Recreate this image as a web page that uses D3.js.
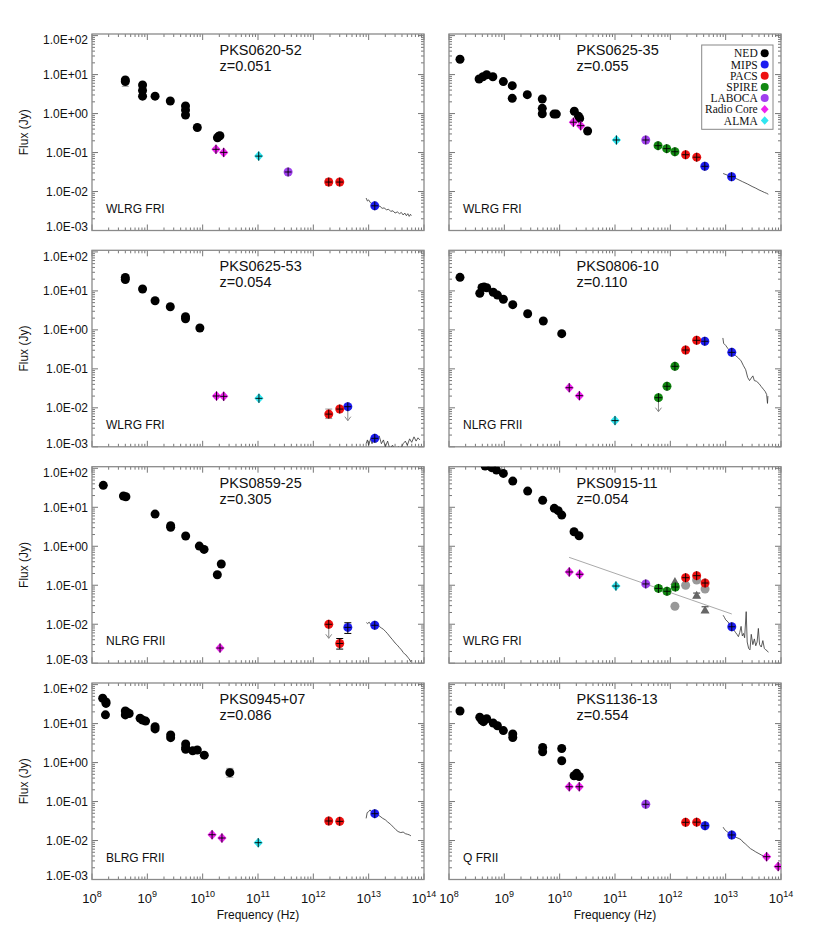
<!DOCTYPE html>
<html><head><meta charset="utf-8">
<script src="https://cdn.jsdelivr.net/npm/d3@7"></script>
<style>body{margin:0;background:#fff;} svg{display:block;}</style>
</head><body>
<svg id="c" width="817" height="940"></svg>
<script>
// ---------- axis data ----------
const xTickValues = [1e8,1e9,1e10,1e11,1e12,1e13,1e14];
const xTickExponents = ["8","9","10","11","12","13","14"];
const yTickValues = [1e-3,1e-2,1e-1,1e0,1e1,1e2];
const yTickLabels = ["1.0E-03","1.0E-02","1.0E-01","1.0E+00","1.0E+01","1.0E+02"];
const sourceNames = ["PKS0620-52","PKS0625-35","PKS0625-53","PKS0806-10","PKS0859-25","PKS0915-11","PKS0945+07","PKS1136-13"];
const redshifts = ["z=0.051","z=0.055","z=0.054","z=0.110","z=0.305","z=0.054","z=0.086","z=0.554"];
const classes = ["WLRG FRI","WLRG FRI","WLRG FRI","NLRG FRII","NLRG FRII","WLRG FRI","BLRG FRII","Q FRII"];
const legendLabels = ["NED","MIPS","PACS","SPIRE","LABOCA","Radio Core","ALMA"];
const legendColors = ["#000000","#1c1cf0","#ee1111","#118811","#a040ee","#ee22ee","#30e6f0"];

// ---------- panel data: [frequency Hz, flux Jy, upperLimit?] ----------
// PKS0620-52
const ned1 = [[4.0e8,7.3],[4.0e8,6.6],[8.2e8,5.4],[8.2e8,3.9],[8.2e8,2.8],[1.38e9,2.8],[2.6e9,2.1],[4.9e9,1.56],[4.9e9,1.23],[4.9e9,0.92],[8.0e9,0.44],[1.85e10,0.24],[1.95e10,0.26],[2.05e10,0.27]];
const core1 = [[1.74e10,0.121],[2.4e10,0.101]];
const alma1 = [[1.03e11,0.081]];
const laboca1 = [[3.5e11,0.0317]];
const pacs1 = [[1.9e12,0.0175],[3.0e12,0.0175]];
const mips1 = [[1.29e13,0.0043]];
const err1 = [[4.0e8,5.0,7.8,"#999"],[1.9e12,0.0145,0.021,"#999"]];
const irs1 = [[9.0e12,0.0068],[9.5e12,0.0057],[1.0e13,0.0061],[1.07e13,0.0052],[1.15e13,0.0049],[1.25e13,0.0045],[1.35e13,0.0047],[1.45e13,0.0041],[1.6e13,0.0042],[1.75e13,0.0037],[1.9e13,0.0038],[2.1e13,0.0034],[2.3e13,0.0035],[2.5e13,0.0031],[2.75e13,0.0032],[3.0e13,0.0028],[3.3e13,0.0030],[3.6e13,0.0027],[3.9e13,0.0029],[4.2e13,0.0025],[4.5e13,0.0028],[4.8e13,0.0024],[5.1e13,0.0027],[5.4e13,0.0023],[5.7e13,0.0026],[5.9e13,0.0024]];
// PKS0625-35
const ned2 = [[1.58e8,24.7],[3.5e8,7.7],[4.1e8,8.8],[4.8e8,9.9],[6.2e8,8.8],[9.6e8,6.6],[1.39e9,5.2],[1.39e9,2.46],[2.6e9,3.05],[4.85e9,2.36],[4.85e9,1.36],[4.85e9,0.99],[7.9e9,0.97],[8.7e9,0.97],[1.84e10,1.15],[2.2e10,0.85],[2.3e10,0.75],[3.2e10,0.357]];
const core2 = [[1.77e10,0.60],[2.4e10,0.49]];
const alma2 = [[1.06e11,0.21]];
const laboca2 = [[3.6e11,0.21]];
const spire2 = [[6.0e11,0.15],[8.6e11,0.126],[1.21e12,0.105]];
const pacs2 = [[1.89e12,0.088],[3.0e12,0.076]];
const mips2 = [[4.2e12,0.0444],[1.28e13,0.024]];
const irs2 = [[9.0e12,0.029],[1.1e13,0.026],[1.3e13,0.024],[1.6e13,0.021],[2.0e13,0.018],[2.5e13,0.0155],[3.0e13,0.0135],[3.5e13,0.0122],[4.0e13,0.011],[4.5e13,0.0102],[5.0e13,0.0095],[5.5e13,0.009],[5.9e13,0.0085]];
// PKS0625-53
const ned3 = [[4.0e8,22],[4.0e8,19.5],[8.2e8,11.2],[1.38e9,5.6],[2.6e9,3.93],[4.9e9,2.18],[4.9e9,1.93],[8.9e9,1.12]];
const core3 = [[1.78e10,0.0201],[2.4e10,0.0197]];
const alma3 = [[1.04e11,0.0175]];
const pacs3 = [[1.9e12,0.0069],[3.0e12,0.0093]];
const mips3 = [[4.2e12,0.0107,1],[1.29e13,0.00165]];
const err3 = [[4.0e8,17,24,"#999"],[1.9e12,0.0053,0.0093,"#999"]];
const irs3 = [[9.0e12,0.0012],[9.5e12,0.0015],[1.0e13,0.0011],[1.08e13,0.0016],[1.15e13,0.0012],[1.25e13,0.0017],[1.35e13,0.0013],[1.45e13,0.0016],[1.55e13,0.0019],[1.7e13,0.0012],[1.85e13,0.0015],[2.0e13,0.0010],[2.2e13,0.0014],[2.4e13,0.0009],[2.7e13,0.0011],[3.0e13,0.0008],[3.4e13,0.0010],[3.8e13,0.0009],[4.2e13,0.0012],[4.6e13,0.0014],[5.0e13,0.0011],[5.5e13,0.0016],[6.0e13,0.0013],[6.6e13,0.0018],[7.2e13,0.0014],[7.8e13,0.0017],[8.4e13,0.0015]];
// PKS0806-10
const ned4 = [[1.58e8,22.3],[3.6e8,8.7],[3.95e8,12.3],[4.3e8,12.5],[4.8e8,12],[6.3e8,9.2],[7.5e8,7.8],[9.6e8,6.1],[1.42e9,4.43],[2.64e9,2.6],[5.06e9,1.69],[1.09e10,0.80]];
const core4 = [[1.49e10,0.0328],[2.27e10,0.0205]];
const alma4 = [[1.0e11,0.0047]];
const spire4 = [[6.1e11,0.0182,1],[8.7e11,0.0357],[1.21e12,0.116]];
const pacs4 = [[1.89e12,0.304],[2.99e12,0.54]];
const mips4 = [[4.2e12,0.51],[1.29e13,0.265]];
const irs4 = [[8.9e12,0.62],[9.2e12,0.45],[1.0e13,0.40],[1.1e13,0.33],[1.3e13,0.26],[1.5e13,0.22],[1.7e13,0.19],[1.9e13,0.16],[2.1e13,0.12],[2.3e13,0.095],[2.5e13,0.060],[2.7e13,0.050],[2.9e13,0.058],[3.1e13,0.066],[3.3e13,0.050],[3.6e13,0.048],[4.0e13,0.042],[4.4e13,0.035],[4.8e13,0.030],[5.2e13,0.026],[5.5e13,0.022],[5.7e13,0.013],[5.8e13,0.020]];
// PKS0859-25
const ned5 = [[1.6e8,36.6],[3.7e8,19.5],[4.1e8,18.6],[1.38e9,6.7],[2.64e9,3.37],[2.64e9,3.06],[4.93e9,1.83],[8.7e9,1.01],[1.06e10,0.83],[1.84e10,0.186],[2.17e10,0.35]];
const core5 = [[2.06e10,0.00245]];
const pacs5 = [[1.9e12,0.00995,1],[3.0e12,0.0032]];
const mips5 = [[4.2e12,0.0083],[1.29e13,0.0094]];
const err5 = [[3.0e12,0.0023,0.0043,"#000"],[4.2e12,0.0058,0.0109,"#000"]];
const irs5 = [[9.1e12,0.011],[9.6e12,0.0104],[1.02e13,0.0113],[1.1e13,0.0097],[1.2e13,0.0103],[1.3e13,0.0094],[1.42e13,0.0098],[1.55e13,0.0088],[1.7e13,0.0080],[1.85e13,0.0074],[2.0e13,0.0066],[2.2e13,0.0057],[2.45e13,0.0047],[2.7e13,0.0040],[3.0e13,0.0033],[3.3e13,0.0029],[3.6e13,0.0025],[3.9e13,0.0022],[4.2e13,0.0019],[4.5e13,0.0017],[4.8e13,0.0016],[5.1e13,0.0014],[5.4e13,0.0013],[5.7e13,0.0011],[5.9e13,0.0012]];
// PKS0915-11
const ned6 = [[2.5e8,300],[3.6e8,180],[4.5e8,115],[5.9e8,104],[7.2e8,90],[9.6e8,74],[1.42e9,47],[2.64e9,26],[4.93e9,15.1],[8.0e9,9.4],[9.4e9,8.2],[1.09e10,6.3],[1.82e10,2.36],[2.24e10,1.86]];
const core6 = [[1.49e10,0.219],[2.3e10,0.191]];
const alma6 = [[1.04e11,0.0955]];
const laboca6 = [[3.6e11,0.108]];
const spire6 = [[6.1e11,0.083],[8.7e11,0.070],[1.23e12,0.090]];
const pacs6 = [[1.89e12,0.156],[2.99e12,0.176],[4.24e12,0.114]];
const mips6 = [[1.29e13,0.0086]];
const grayCircles6 = [[1.89e12,0.0998],[2.99e12,0.136],[4.24e12,0.080],[1.21e12,0.029]];
const grayTriangles6 = [[2.99e12,0.055],[4.24e12,0.023],[1.21e12,0.125]];
const fitLine6 = [[1.48e10,0.52],[1.29e13,0.0183]];
const err6 = [[6.1e11,0.072,0.095,"#000"],[8.7e11,0.060,0.081,"#000"],[1.23e12,0.078,0.11,"#000"],[2.99e12,0.048,0.063,"#333"],[4.24e12,0.020,0.028,"#333"]];
const irs6 = [[9.0e12,0.017],[9.5e12,0.015],[1.0e13,0.013],[1.1e13,0.0115],[1.2e13,0.0095],[1.3e13,0.0086],[1.4e13,0.0072],[1.5e13,0.0062],[1.6e13,0.0055],[1.7e13,0.0048],[1.8e13,0.0062],[1.9e13,0.0088],[2.0e13,0.0050],[2.1e13,0.0058],[2.2e13,0.0045],[2.35e13,0.021],[2.45e13,0.0035],[2.6e13,0.0024],[2.75e13,0.0022],[2.9e13,0.0055],[3.1e13,0.0030],[3.3e13,0.0042],[3.5e13,0.0028],[3.7e13,0.0035],[3.9e13,0.0078],[4.1e13,0.0030],[4.4e13,0.0026],[4.7e13,0.0038],[5.0e13,0.0024],[5.3e13,0.0022],[5.6e13,0.0021],[5.9e13,0.0019]];
// PKS0945+07
const ned7 = [[1.56e8,44.6],[1.79e8,36],[1.79e8,33],[1.75e8,16.8],[4.0e8,21],[4.0e8,16.7],[4.3e8,19.5],[4.7e8,18.1],[7.4e8,13.7],[8.2e8,12.4],[9.3e8,11.6],[1.38e9,8.3],[1.38e9,7.3],[2.64e9,5.1],[2.64e9,4.35],[4.93e9,3.0],[4.93e9,2.45],[4.93e9,2.19],[6.6e9,2.0],[8.0e9,2.1],[1.07e10,1.55],[3.1e10,0.55]];
const core7 = [[1.48e10,0.0141],[2.23e10,0.0116]];
const alma7 = [[1.01e11,0.0088]];
const pacs7 = [[1.9e12,0.0317],[3.0e12,0.031]];
const mips7 = [[1.29e13,0.0488]];
const err7 = [[3.1e10,0.42,0.71,"#999"]];
const irs7 = [[9.0e12,0.037],[9.4e12,0.052],[1.0e13,0.055],[1.06e13,0.061],[1.15e13,0.052],[1.28e13,0.049],[1.45e13,0.046],[1.6e13,0.042],[1.8e13,0.037],[2.0e13,0.034],[2.2e13,0.030],[2.5e13,0.026],[2.8e13,0.022],[3.1e13,0.019],[3.4e13,0.017],[3.8e13,0.016],[4.2e13,0.0165],[4.6e13,0.0150],[5.0e13,0.0145],[5.4e13,0.0140],[5.8e13,0.0132]];
// PKS1136-13
const ned8 = [[1.58e8,21],[3.6e8,14.5],[3.9e8,12.4],[4.2e8,11.2],[4.8e8,13.3],[6.3e8,10.3],[7.5e8,8.8],[9.6e8,6.6],[1.42e9,5.4],[1.42e9,4.4],[4.93e9,2.45],[4.93e9,1.89],[1.09e10,2.3],[1.09e10,1.11],[1.82e10,0.46],[2.03e10,0.53],[2.26e10,0.44]];
const core8 = [[1.49e10,0.24],[2.26e10,0.24],[5.5e13,0.00385],[8.9e13,0.00214]];
const laboca8 = [[3.6e11,0.085]];
const pacs8 = [[1.89e12,0.0293],[2.99e12,0.0296]];
const mips8 = [[4.24e12,0.024],[1.29e13,0.0139]];
const irs8 = [[9.0e12,0.022],[9.6e12,0.019],[1.05e13,0.017],[1.15e13,0.0155],[1.28e13,0.0140],[1.45e13,0.0125],[1.6e13,0.0118],[1.75e13,0.0112],[1.9e13,0.0105],[2.05e13,0.0092],[2.25e13,0.0083],[2.5e13,0.0072],[2.8e13,0.0062],[3.1e13,0.0057],[3.5e13,0.0051],[4.0e13,0.0046],[4.5e13,0.0042],[5.0e13,0.0040],[5.5e13,0.0038]];

// assemble panels from named arrays
const panels = [
  {ned:ned1, core:core1, alma:alma1, laboca:laboca1, pacs:pacs1, mips:mips1, err:err1, irs:irs1},
  {ned:ned2, core:core2, alma:alma2, laboca:laboca2, spire:spire2, pacs:pacs2, mips:mips2, irs:irs2, legend:true},
  {ned:ned3, core:core3, alma:alma3, pacs:pacs3, mips:mips3, err:err3, irs:irs3},
  {ned:ned4, core:core4, alma:alma4, spire:spire4, pacs:pacs4, mips:mips4, irs:irs4},
  {ned:ned5, core:core5, pacs:pacs5, mips:mips5, err:err5, irs:irs5},
  {ned:ned6, core:core6, alma:alma6, laboca:laboca6, spire:spire6, pacs:pacs6, mips:mips6, err:err6, irs:irs6, grayC:grayCircles6, grayT:grayTriangles6, fit:fitLine6},
  {ned:ned7, core:core7, alma:alma7, pacs:pacs7, mips:mips7, err:err7, irs:irs7},
  {ned:ned8, core:core8, laboca:laboca8, pacs:pacs8, mips:mips8, irs:irs8}
];

// ---------- layout ----------
const colX = [92, 449];
const rowY = [34, 250.3, 466.7, 683];
const W = 332, H = 196.5;
const FONT = "'Liberation Sans', Arial, Helvetica, sans-serif";
const svg = d3.select("#c");

const x = d3.scaleLog().domain([1e8, 1e14]).range([0, W]);
const y = d3.scaleLog().domain([1e-3, 110]).range([H, 0]);

const minorX = [], minorY = [];
for (let d = 8; d < 14; d++) for (let k = 2; k <= 9; k++) minorX.push(k * Math.pow(10, d));
for (let d = -3; d < 2; d++) for (let k = 2; k <= 9; k++) minorY.push(k * Math.pow(10, d));

const diamond = "M0,-5L4.6,0L0,5L-4.6,0Z";
const R = 4.5;

panels.forEach((p, i) => {
  const col = i % 2, row = Math.floor(i / 2);
  const g = svg.append("g").attr("transform", `translate(${colX[col]},${rowY[row]})`);
  const clipId = "clip" + i;
  g.append("clipPath").attr("id", clipId).append("rect").attr("x", 0).attr("y", 0).attr("width", W).attr("height", H);

  // ticks (inward, on all four sides)
  const tg = g.append("g").attr("stroke", "#777").attr("stroke-width", 1);
  xTickValues.forEach(v => {
    tg.append("line").attr("x1", x(v)).attr("x2", x(v)).attr("y1", H).attr("y2", H - 6);
    tg.append("line").attr("x1", x(v)).attr("x2", x(v)).attr("y1", 0).attr("y2", 6);
  });
  minorX.forEach(v => {
    tg.append("line").attr("x1", x(v)).attr("x2", x(v)).attr("y1", H).attr("y2", H - 3);
    tg.append("line").attr("x1", x(v)).attr("x2", x(v)).attr("y1", 0).attr("y2", 3);
  });
  yTickValues.forEach(v => {
    tg.append("line").attr("x1", 0).attr("x2", 6).attr("y1", y(v)).attr("y2", y(v));
    tg.append("line").attr("x1", W).attr("x2", W - 6).attr("y1", y(v)).attr("y2", y(v));
  });
  minorY.forEach(v => {
    tg.append("line").attr("x1", 0).attr("x2", 3).attr("y1", y(v)).attr("y2", y(v));
    tg.append("line").attr("x1", W).attr("x2", W - 3).attr("y1", y(v)).attr("y2", y(v));
  });
  g.append("rect").attr("width", W).attr("height", H).attr("fill", "none").attr("stroke", "#8a8a8a").attr("stroke-width", 1.3);

  const pg = g.append("g").attr("clip-path", `url(#${clipId})`);

  // fit line
  if (p.fit) {
    pg.append("path").attr("d", d3.line().x(d => x(d[0])).y(d => y(d[1]))(p.fit))
      .attr("fill", "none").attr("stroke", "#aaa").attr("stroke-width", 1);
  }
  // IRS spectrum
  if (p.irs) {
    pg.append("path").attr("d", d3.line().x(d => x(d[0])).y(d => y(d[1]))(p.irs))
      .attr("fill", "none").attr("stroke", "#333").attr("stroke-width", 0.8);
  }
  // error bars
  (p.err || []).forEach(e => {
    const ex = x(e[0]);
    pg.append("line").attr("x1", ex).attr("x2", ex).attr("y1", y(e[1])).attr("y2", y(e[2])).attr("stroke", e[3]).attr("stroke-width", 1);
    [e[1], e[2]].forEach(v => pg.append("line").attr("x1", ex - 3.5).attr("x2", ex + 3.5).attr("y1", y(v)).attr("y2", y(v)).attr("stroke", e[3]).attr("stroke-width", 1));
  });
  // gray extra points (panel 6)
  (p.grayC || []).forEach(d => pg.append("circle").attr("cx", x(d[0])).attr("cy", y(d[1])).attr("r", R).attr("fill", "#999"));
  (p.grayT || []).forEach(d => pg.append("path").attr("transform", `translate(${x(d[0])},${y(d[1])})`)
      .attr("d", "M0,-4.5L4.5,3.5L-4.5,3.5Z").attr("fill", "#666"));

  const upperArrow = (cx, cy) => {
    pg.append("path").attr("d", `M${cx},${cy}L${cx},${cy + 14}M${cx - 3},${cy + 10}L${cx},${cy + 14}L${cx + 3},${cy + 10}`)
      .attr("fill", "none").attr("stroke", "#888").attr("stroke-width", 1);
  };
  const cross = (cx, cy) => {
    pg.append("path").attr("d", `M${cx - 3.5},${cy}L${cx + 3.5},${cy}M${cx},${cy - 4.5}L${cx},${cy + 4.5}`)
      .attr("stroke", "#000").attr("stroke-width", 0.9);
  };

  // NED
  p.ned.forEach(d => pg.append("circle").attr("cx", x(d[0])).attr("cy", y(d[1])).attr("r", R).attr("fill", legendColors[0]));
  // circle series
  [["mips",1],["pacs",2],["spire",3],["laboca",4]].forEach(([k, ci]) => {
    (p[k] || []).forEach(d => {
      const cx = x(d[0]), cy = y(d[1]);
      if (d[2]) upperArrow(cx, cy);
      pg.append("circle").attr("cx", cx).attr("cy", cy).attr("r", R).attr("fill", legendColors[ci]);
      cross(cx, cy);
    });
  });
  // diamond series
  [["core",5],["alma",6]].forEach(([k, ci]) => {
    (p[k] || []).forEach(d => {
      const cx = x(d[0]), cy = y(d[1]);
      pg.append("path").attr("transform", `translate(${cx},${cy})`).attr("d", diamond).attr("fill", legendColors[ci]);
      cross(cx, cy);
    });
  });

  // texts
  g.append("text").attr("x", 127.5).attr("y", 21).attr("font-family", FONT).attr("font-size", 14.5).attr("fill", "#111").text(sourceNames[i]);
  g.append("text").attr("x", 127.5).attr("y", 37).attr("font-family", FONT).attr("font-size", 14.5).attr("fill", "#111").text(redshifts[i]);
  g.append("text").attr("x", 14).attr("y", H - 18).attr("font-family", FONT).attr("font-size", 12).attr("fill", "#111").text(classes[i]);

  // y tick labels (left column)
  if (col === 0) {
    yTickValues.forEach((v, j) => {
      const yy = Math.max(6, Math.min(H - 3.5, y(v)));
      g.append("text").attr("x", -4).attr("y", yy).attr("dy", "0.36em").attr("text-anchor", "end")
        .attr("font-family", FONT).attr("font-size", 12).attr("fill", "#111").text(yTickLabels[j]);
    });
    g.append("text").attr("transform", `translate(${-64},${H / 2}) rotate(-90)`).attr("text-anchor", "middle")
      .attr("font-family", FONT).attr("font-size", 12).attr("fill", "#111").text("Flux (Jy)");
  }
  // x tick labels (bottom row)
  if (row === 3) {
    xTickValues.forEach((v, j) => {
      const t = g.append("text").attr("x", x(v)).attr("y", H + 23.5).attr("text-anchor", "middle")
        .attr("font-family", FONT).attr("font-size", 13).attr("fill", "#111");
      t.append("tspan").text("10");
      t.append("tspan").attr("font-size", 9).attr("dy", -6).text(xTickExponents[j]);
    });
    g.append("text").attr("x", W / 2).attr("y", H + 39.5).attr("text-anchor", "middle")
      .attr("font-family", FONT).attr("font-size", 12).attr("fill", "#111").text("Frequency (Hz)");
  }

  // legend
  if (p.legend) {
    const lg = g.append("g").attr("transform", "translate(252.7,11)");
    lg.append("rect").attr("width", 71.3).attr("height", 84.3).attr("fill", "#fff").attr("stroke", "#888").attr("stroke-width", 1);
    legendLabels.forEach((lab, j) => {
      const cy = 8.3 + j * 11.2;
      lg.append("text").attr("x", 56).attr("y", cy).attr("dy", "0.35em").attr("text-anchor", "end")
        .attr("font-family", "'Liberation Serif', 'Times New Roman', serif").attr("font-size", 11.5).attr("fill", "#111").text(lab);
      if (j < 5) lg.append("circle").attr("cx", 63).attr("cy", cy).attr("r", 4).attr("fill", legendColors[j]);
      else lg.append("path").attr("transform", `translate(63,${cy}) scale(0.85)`).attr("d", diamond).attr("fill", legendColors[j]);
    });
  }
});
</script>
</body></html>
